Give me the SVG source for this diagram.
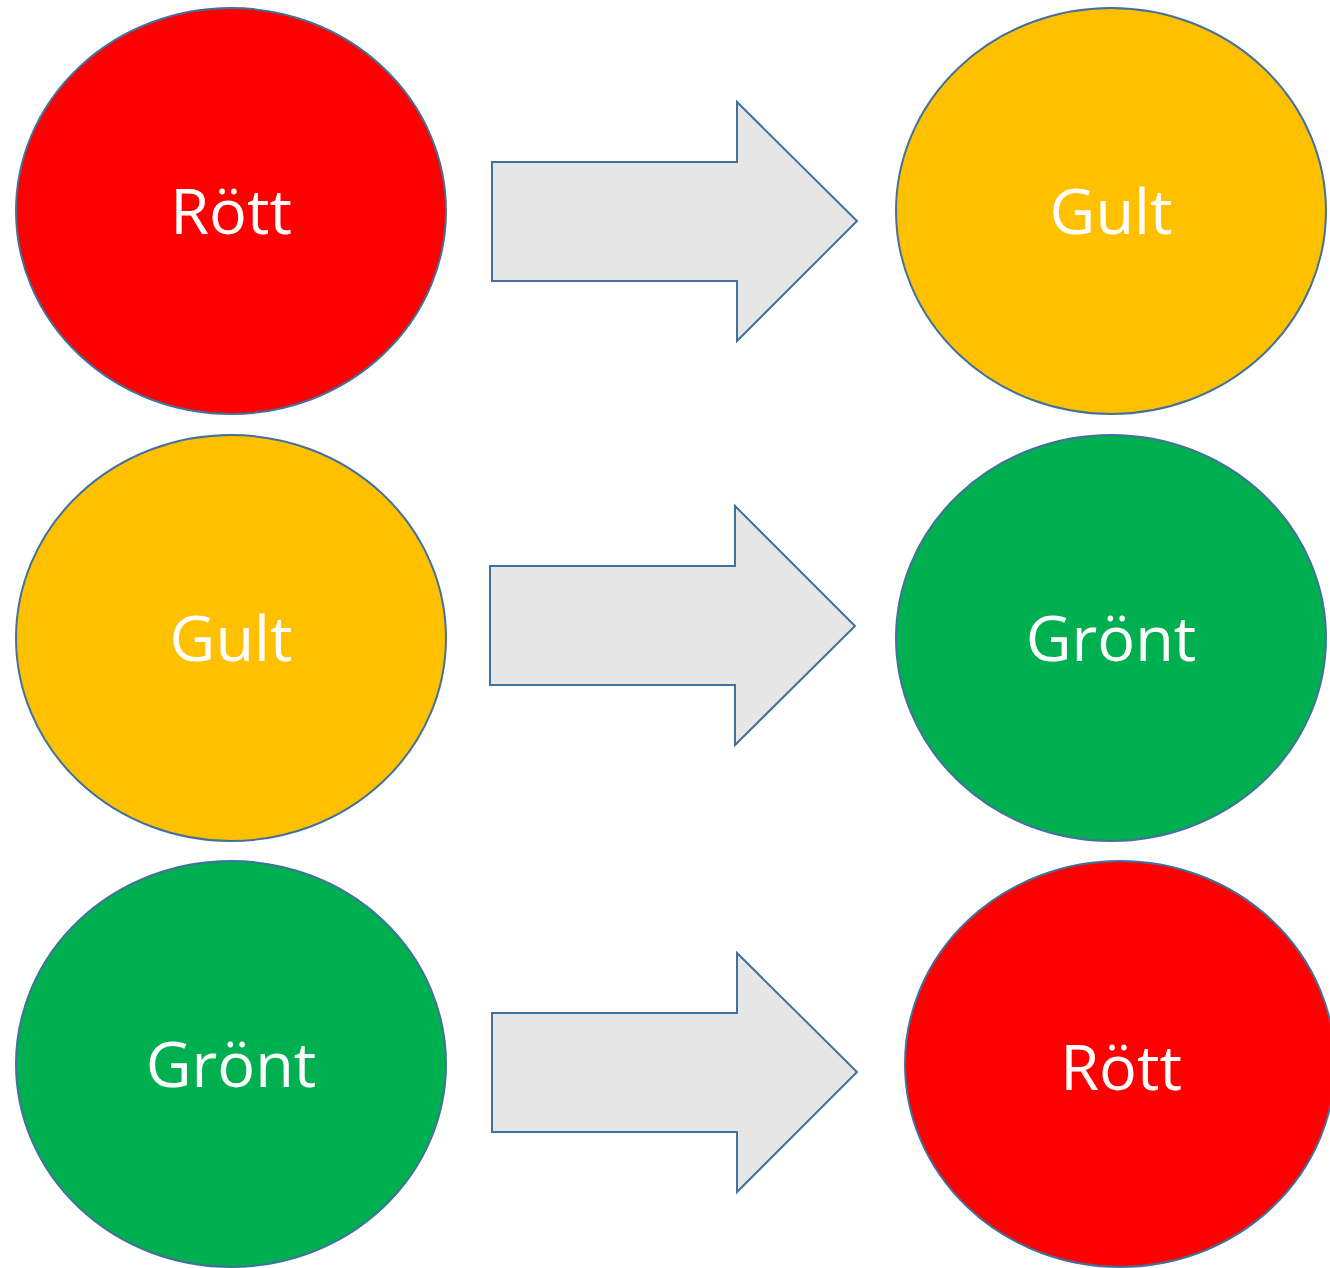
<svg xmlns="http://www.w3.org/2000/svg" width="1330" height="1268" viewBox="0 0 1330 1268">
<style>
.n{stroke:#41719C;stroke-width:2}
.r{fill:#FF0000}.y{fill:#FFC000}.g{fill:#00B050}
.a{fill:#E7E6E6;stroke:#41719C;stroke-width:2;stroke-linejoin:miter}
text{font-family:"Open Sans","Noto Sans","Liberation Sans",sans-serif;font-size:63px;fill:#FFFFFF;text-anchor:middle}
</style>
<rect width="1330" height="1268" fill="#FFFFFF"/>
<g id="n1"><ellipse class="n r" cx="231" cy="211" rx="215" ry="203"/><text x="231" y="234">Rött</text></g>
<g id="n2"><ellipse class="n y" cx="1111" cy="211" rx="215" ry="203"/><text x="1111" y="234">Gult</text></g>
<g id="n3"><ellipse class="n y" cx="231" cy="638" rx="215" ry="203"/><text x="231" y="661">Gult</text></g>
<g id="n4"><ellipse class="n g" cx="1111" cy="638" rx="215" ry="203"/><text x="1111" y="661">Grönt</text></g>
<g id="n5"><ellipse class="n g" cx="231" cy="1064" rx="215" ry="203"/><text x="231" y="1087">Grönt</text></g>
<g id="n6"><ellipse class="n r" cx="1120" cy="1064" rx="215" ry="203"/><text x="1121" y="1090">Rött</text></g>
<g id="connectors">
<polygon class="a" points="492,162 737,162 737,102 857,221 737,341 737,281 492,281"/>
<polygon class="a" points="490,566 735,566 735,506 855,626 735,745 735,685 490,685"/>
<polygon class="a" points="492,1013 737,1013 737,953 857,1072 737,1192 737,1132 492,1132"/>
</g>
</svg>
